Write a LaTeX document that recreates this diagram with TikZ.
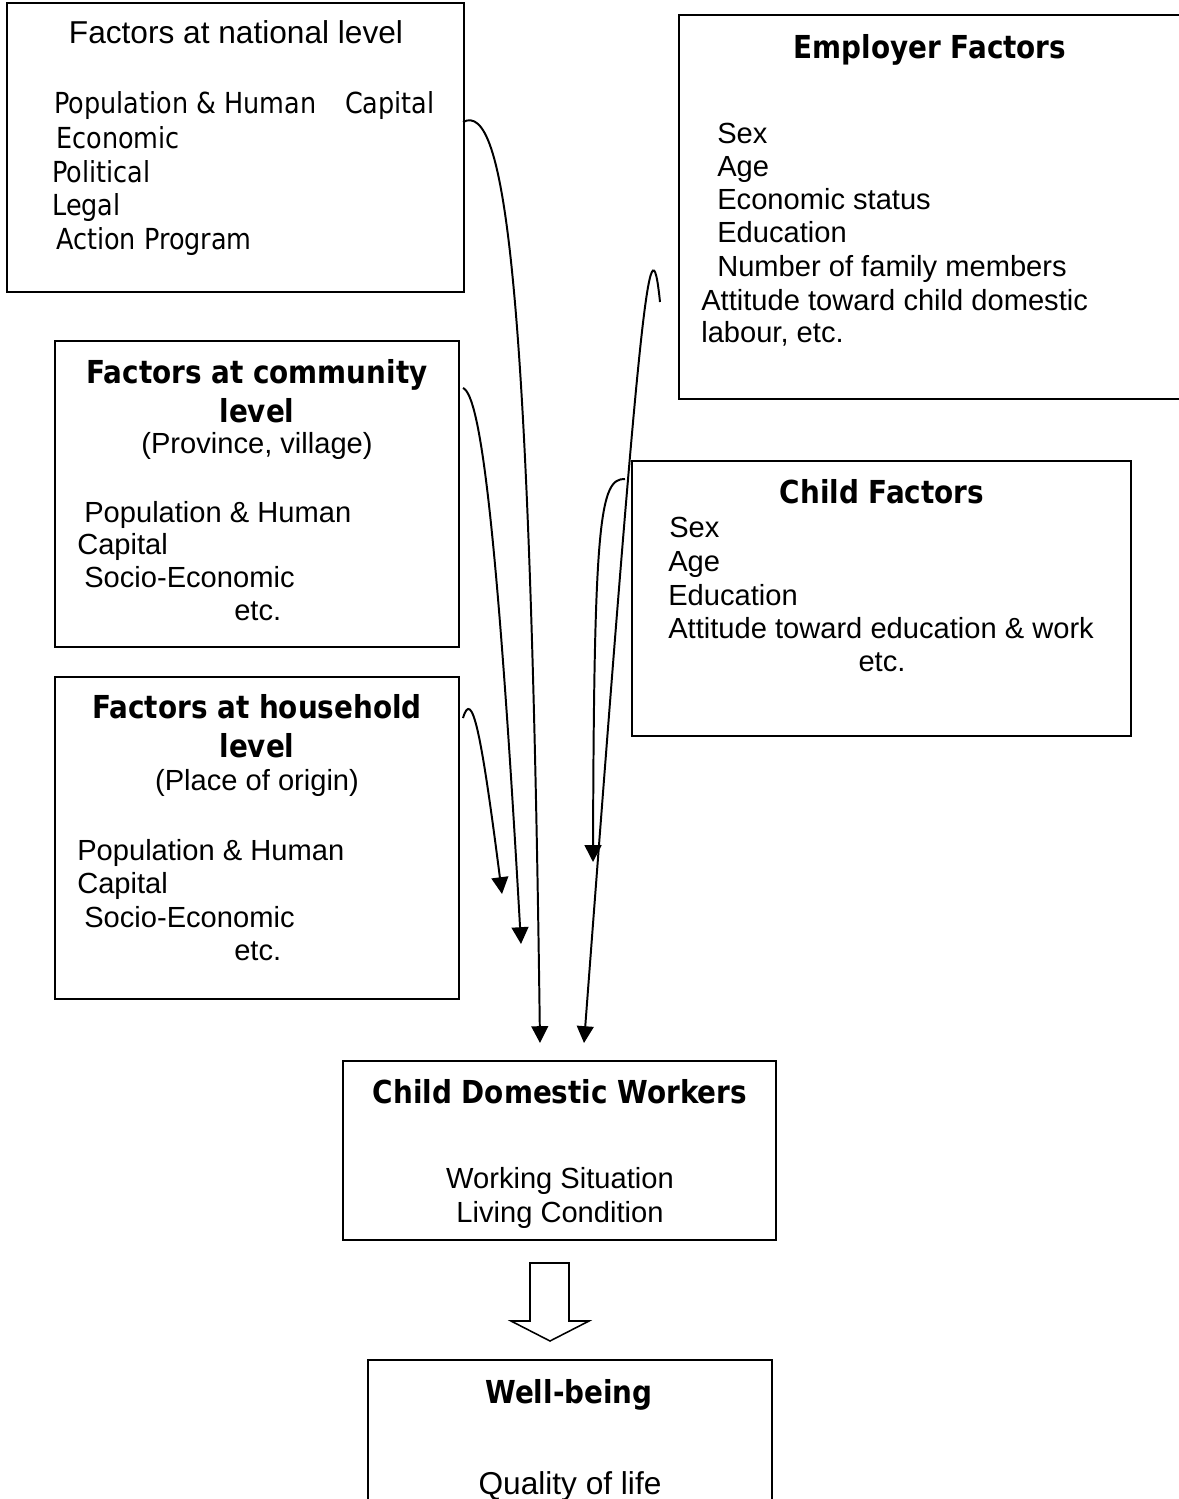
\documentclass[tikz,border=0pt]{standalone}
\usepackage{fontspec}
\setmainfont{Liberation Sans}
\newfontfamily\tahoma[FakeStretch=0.88]{DejaVu Sans}
\usepackage{tikz}
\usetikzlibrary{fit,arrows.meta}

\begin{document}
\begin{tikzpicture}[
  x=0.025cm, y=-0.025cm,
  % ── box and text styles ──────────────────────────────────
  box/.style={draw, line width=1.4pt, inner sep=0pt},
  hdr/.style={anchor=base, inner sep=0pt,
    font=\tahoma\bfseries\fontsize{22.5}{26}\selectfont},
  ttl/.style={anchor=base, inner sep=0pt,
    font=\fontsize{22.5}{26}\selectfont},
  item/.style={anchor=base west, inner sep=0pt,
    font=\fontsize{20.7}{24}\selectfont},
  citem/.style={item, anchor=base},
  tah/.style={item, font=\tahoma\fontsize{20.6}{24}\selectfont},
  % ── link styles ──────────────────────────────────────────
  link/.style={line width=1.4pt,
    -{Triangle[length=0.42cm,width=0.42cm]}},
  fatarrow/.style={line width=1.1pt, line join=miter},
]
\useasboundingbox (0,0) rectangle (1178,1499);

%% ── NATIONAL LEVEL ───────────────────────────────────────────
\node[box, fit={(7,3) (464,292)}] (nat) {};
\node[ttl] (natT) at (236,44) {Factors at national level};
\node[tah] (natA) at (54,113) {Population \& Human\hspace{0.72cm}Capital};
\node[tah] (natB) at (56,148) {Economic};
\node[tah] (natC) at (52,182) {Political};
\node[tah] (natD) at (52,215) {Legal};
\node[tah] (natE) at (56,249) {Action Program};

%% ── EMPLOYER FACTORS ─────────────────────────────────────────
\node[box, fit={(679,15) (1195,399)}] (emp) {};
\node[hdr] (empT) at (930,58) {Employer Factors};
\node[item] (empA) at (717,143) {Sex};
\node[item] (empB) at (717,176) {Age};
\node[item] (empC) at (717,209) {Economic status};
\node[item] (empD) at (717,242) {Education};
\node[item] (empE) at (717,276) {Number of family members};
\node[item] (empF) at (701,310) {Attitude toward child domestic};
\node[item] (empG) at (701,342) {labour, etc.};

%% ── COMMUNITY LEVEL ──────────────────────────────────────────
\node[box, fit={(55,341) (459,647)}] (com) {};
\node[hdr] (comT) at (257,383) {Factors at community};
\node[hdr] (comT2) at (257,422) {level};
\node[citem] (comS) at (257,453) {(Province, village)};
\node[item] (comA) at (84,522) {Population \& Human};
\node[item] (comB) at (77,554) {Capital};
\node[item] (comC) at (84,587) {Socio-Economic};
\node[item] (comD) at (234,620) {etc.};

%% ── HOUSEHOLD LEVEL ──────────────────────────────────────────
\node[box, fit={(55,677) (459,999)}] (hh) {};
\node[hdr] (hhT) at (257,718) {Factors at household};
\node[hdr] (hhT2) at (257,757) {level};
\node[citem] (hhS) at (257,790) {(Place of origin)};
\node[item] (hhA) at (77,860) {Population \& Human};
\node[item] (hhB) at (77,893) {Capital};
\node[item] (hhC) at (84,927) {Socio-Economic};
\node[item] (hhD) at (234,960) {etc.};

%% ── CHILD FACTORS ────────────────────────────────────────────
\node[box, fit={(632,461) (1131,736)}] (ch) {};
\node[hdr] (chT) at (882,503) {Child Factors};
\node[item] (chA) at (669,537) {Sex};
\node[item] (chB) at (668,571) {Age};
\node[item] (chC) at (668,605) {Education};
\node[item] (chD) at (668,638) {Attitude toward education \& work};
\node[citem] (chE) at (882,671) {etc.};

%% ── CHILD DOMESTIC WORKERS ───────────────────────────────────
\node[box, fit={(343,1061) (776,1240)}] (cdw) {};
\node[hdr] (cdwT) at (560,1103) {Child Domestic Workers};
\node[citem] (cdwA) at (560,1188) {Working Situation};
\node[citem] (cdwB) at (560,1222) {Living Condition};

%% ── WELL-BEING ───────────────────────────────────────────────
\node[box, fit={(368,1360) (772,1530)}] (wb) {};
\node[hdr] (wbT) at (569,1403) {Well-being};
\node[ttl] (wbA) at (570,1494) {Quality of life};

%% ── CURVED INFLUENCE ARROWS ──────────────────────────────────
\coordinate (natOut) at (463,122);  \coordinate (natIn) at (540,1043);
\coordinate (comOut) at (463,388);  \coordinate (comIn) at (521,944);
\coordinate (hhOut) at (463,718);   \coordinate (hhIn) at (502,894);
\coordinate (empOut) at (660,302);  \coordinate (empIn) at (584,1043);
\coordinate (chOut) at (625,479);   \coordinate (chIn) at (593,862);

\draw[link] (natOut) .. controls (505,100) and (530,280) .. (natIn);
\draw[link] (comOut) .. controls (480,395) and (497,520) .. (comIn);
\draw[link] (hhOut) .. controls (472,688) and (481,730) .. (hhIn);
\draw[link] (empOut) .. controls (650,205) and (640,300) .. (empIn);
\draw[link] (chOut) .. controls (600,478) and (594,520) .. (chIn);

%% ── BLOCK ARROW (workers -> well-being) ──────────────────────
\draw[fatarrow] (530,1263) -- (569,1263) -- (569,1321) -- (589,1321)
  -- (550,1341) -- (511,1321) -- (530,1321) -- cycle;

\end{tikzpicture}
\end{document}
